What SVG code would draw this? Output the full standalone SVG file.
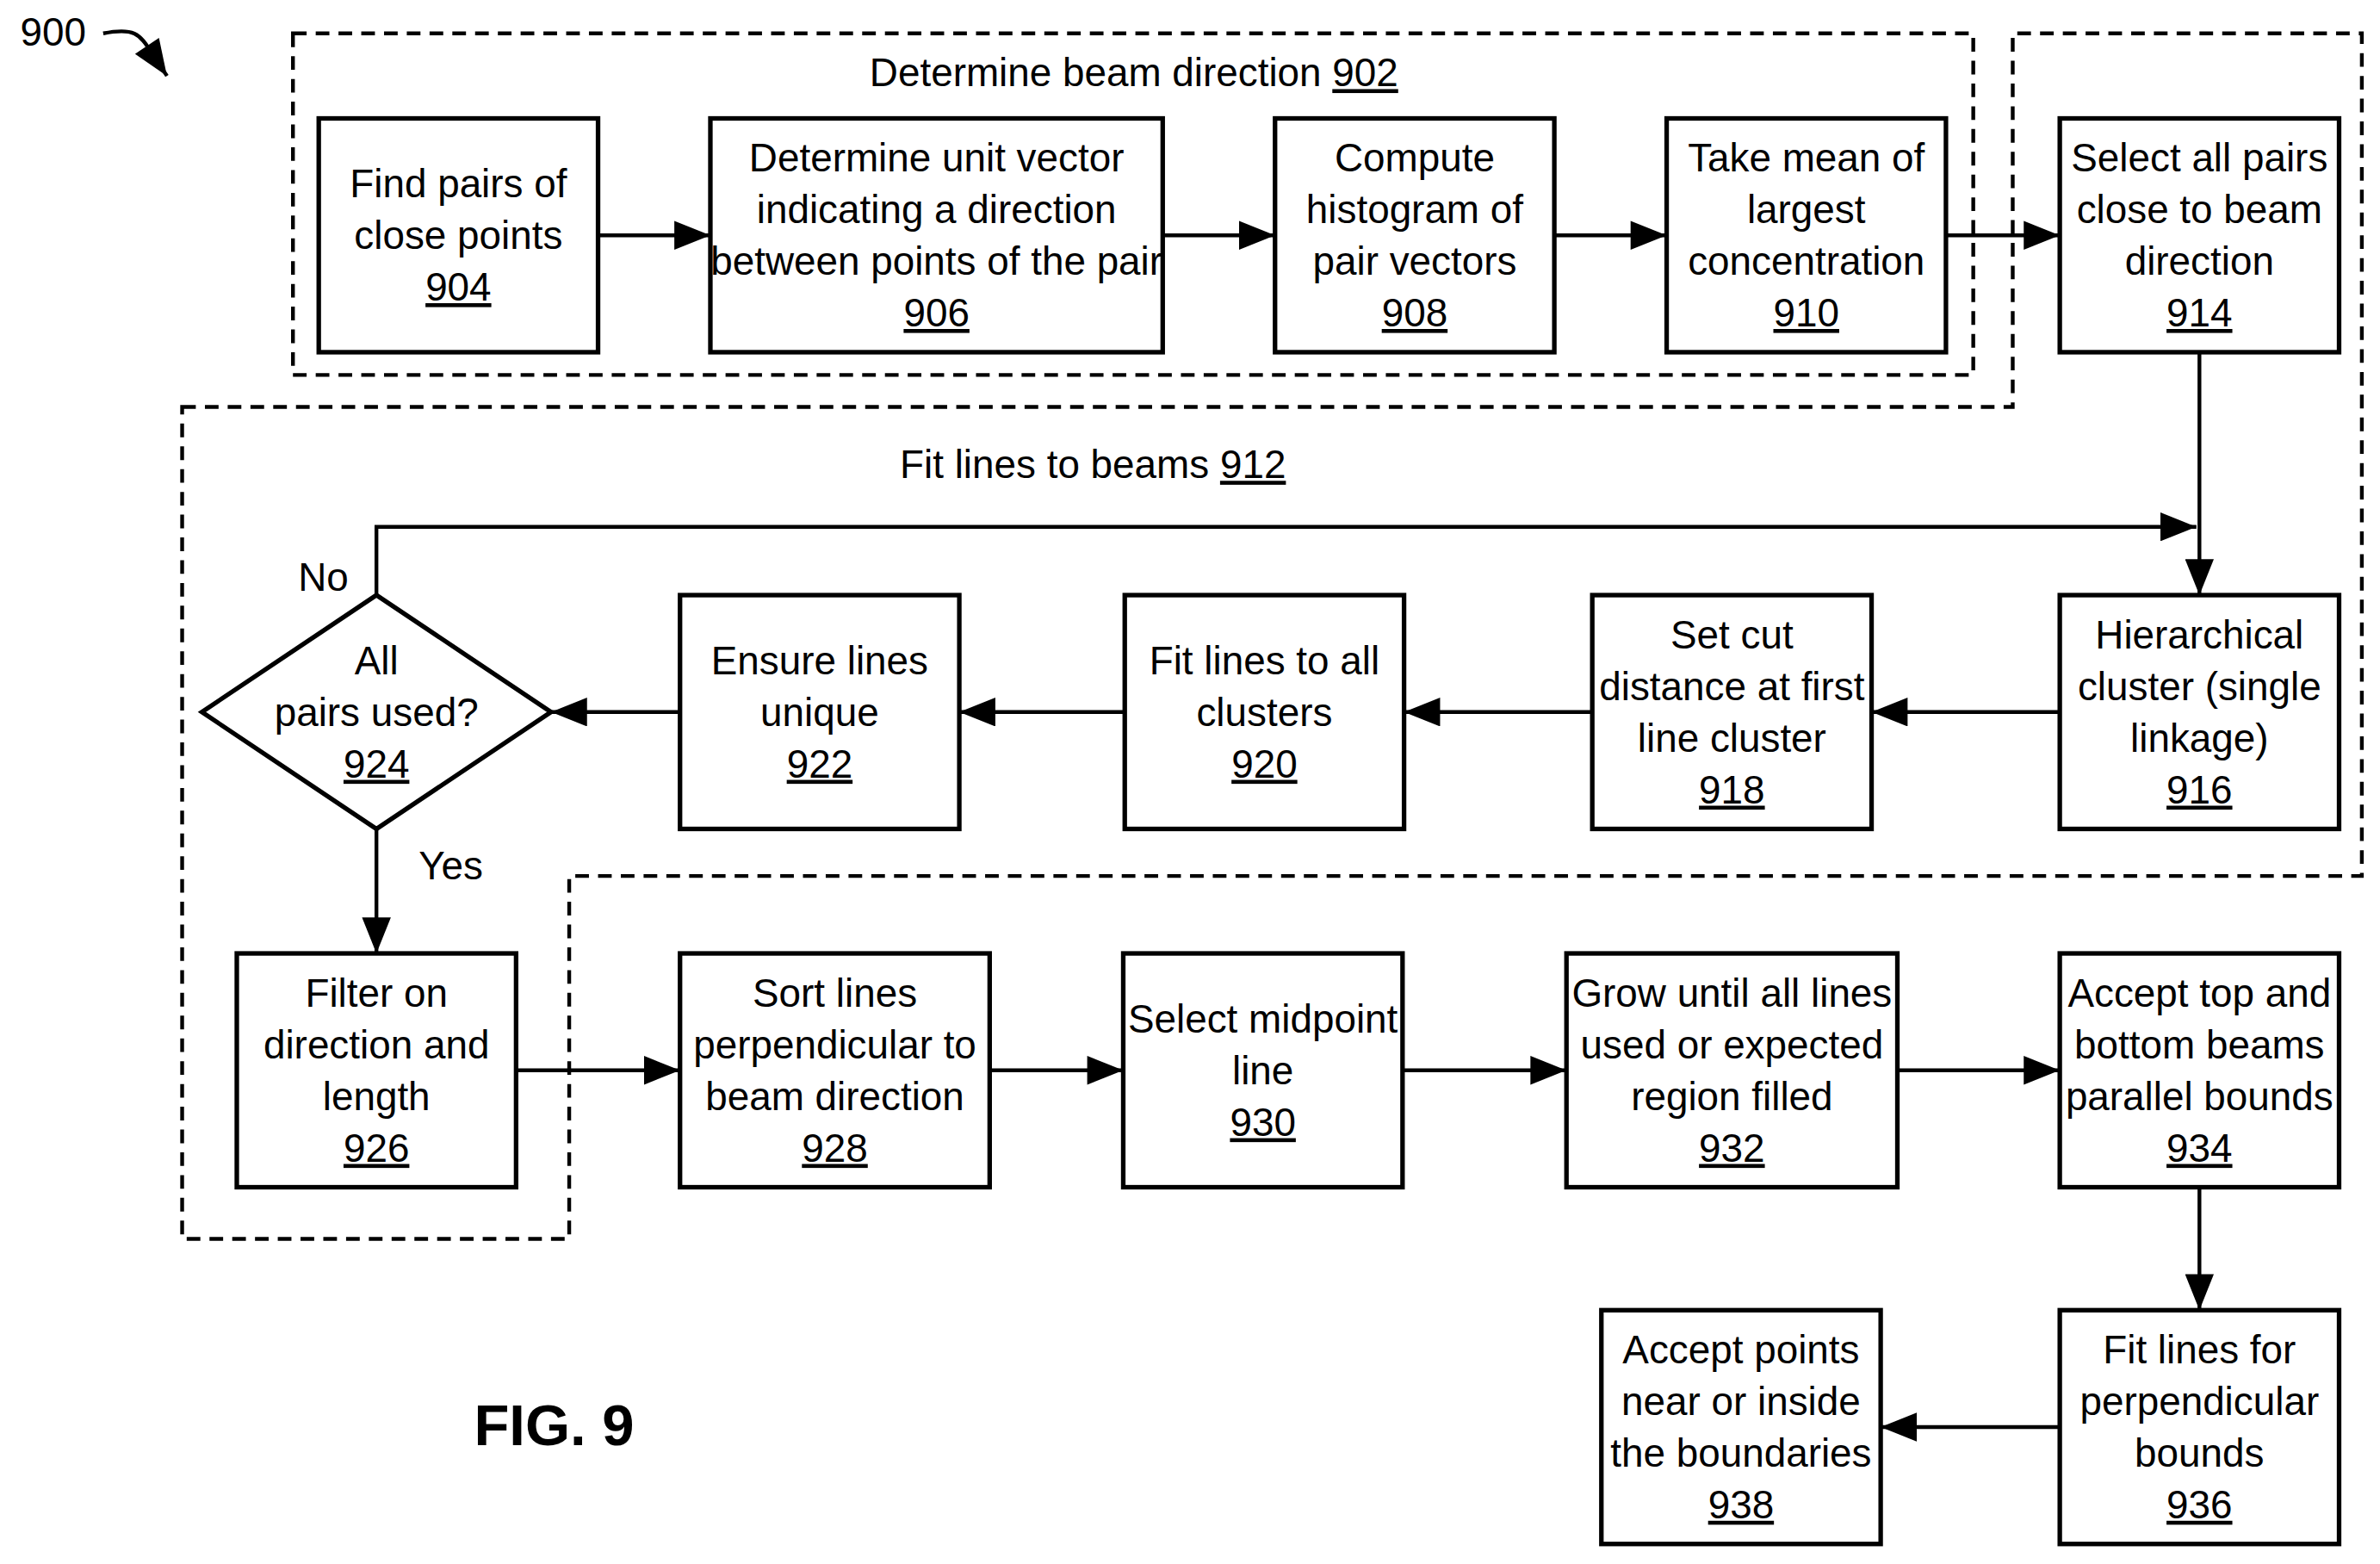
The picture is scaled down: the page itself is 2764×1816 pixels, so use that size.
<svg xmlns="http://www.w3.org/2000/svg" width="2764" height="1816" viewBox="0 0 2764 1816">
<style>
.b{fill:#fff;stroke:#000;stroke-width:3}
.d{fill:none;stroke:#000;stroke-width:2.5;stroke-dasharray:9,6}
.c{fill:none;stroke:#000;stroke-width:2.5}
text{font-family:"Liberation Sans Narrow","Liberation Sans",Arial,sans-serif;font-size:26px;text-anchor:middle;fill:#000}
.u{text-decoration:underline}
</style>
<defs><marker id="a" markerWidth="10" markerHeight="8" refX="10" refY="4" orient="auto" markerUnits="userSpaceOnUse" viewBox="0 0 10 8"><path d="M0,0L10,4L0,8z"/></marker>
<marker id="m" viewBox="0 0 10 8" refX="10" refY="4" markerWidth="24" markerHeight="19" orient="auto" markerUnits="userSpaceOnUse"><path d="M0,0L10,4L0,8z"/></marker></defs>
<rect width="2764" height="1816" fill="#fff"/>
<g transform="scale(1.7628)">
<g id="groups">
<rect class="d" x="193" y="22" width="1107" height="225"/>
<text x="747" y="57">Determine beam direction <tspan class="u">902</tspan></text>
<path class="d" d="M120,268H1326V22H1556V577H375V816H120Z"/>
<text x="720" y="315">Fit lines to beams <tspan class="u">912</tspan></text>
</g>
<g id="label900"><text x="35" y="30" style="font-size:26px">900</text>
<path class="c" d="M68,22C88,18 92,22 100,35L110,50" marker-end="url(#m)"/></g>
<g id="connectors">
<path class="c" marker-end="url(#m)" d="M394,155H468"/>
<path class="c" marker-end="url(#m)" d="M766,155H840"/>
<path class="c" marker-end="url(#m)" d="M1024,155H1098"/>
<path class="c" marker-end="url(#m)" d="M1282,155H1357"/>
<path class="c" marker-end="url(#m)" d="M1449,232V392"/>
<path class="c" marker-end="url(#m)" d="M248,392V347H1447"/>
<path class="c" marker-end="url(#m)" d="M1357,469H1233"/>
<path class="c" marker-end="url(#m)" d="M1049,469H925"/>
<path class="c" marker-end="url(#m)" d="M741,469H632"/>
<path class="c" marker-end="url(#m)" d="M448,469H363"/>
<path class="c" marker-end="url(#m)" d="M248,546V628"/>
<path class="c" marker-end="url(#m)" d="M340,705H448"/>
<path class="c" marker-end="url(#m)" d="M652,705H740"/>
<path class="c" marker-end="url(#m)" d="M924,705H1032"/>
<path class="c" marker-end="url(#m)" d="M1250,705H1357"/>
<path class="c" marker-end="url(#m)" d="M1449,782V863"/>
<path class="c" marker-end="url(#m)" d="M1357,940H1239"/>
<text x="213" y="389">No</text>
<text x="297" y="579">Yes</text>
</g>
<g id="n904"><rect class="b" x="210" y="78" width="184" height="154"/><text x="302" y="130">Find pairs of</text><text x="302" y="164">close points</text><text x="302" y="198" class="u">904</text></g>
<g id="n906"><rect class="b" x="468" y="78" width="298" height="154"/><text x="617" y="113">Determine unit vector</text><text x="617" y="147">indicating a direction</text><text x="617" y="181">between points of the pair</text><text x="617" y="215" class="u">906</text></g>
<g id="n908"><rect class="b" x="840" y="78" width="184" height="154"/><text x="932" y="113">Compute</text><text x="932" y="147">histogram of</text><text x="932" y="181">pair vectors</text><text x="932" y="215" class="u">908</text></g>
<g id="n910"><rect class="b" x="1098" y="78" width="184" height="154"/><text x="1190" y="113">Take mean of</text><text x="1190" y="147">largest</text><text x="1190" y="181">concentration</text><text x="1190" y="215" class="u">910</text></g>
<g id="n914"><rect class="b" x="1357" y="78" width="184" height="154"/><text x="1449" y="113">Select all pairs</text><text x="1449" y="147">close to beam</text><text x="1449" y="181">direction</text><text x="1449" y="215" class="u">914</text></g>
<g id="n916"><rect class="b" x="1357" y="392" width="184" height="154"/><text x="1449" y="427">Hierarchical</text><text x="1449" y="461">cluster (single</text><text x="1449" y="495">linkage)</text><text x="1449" y="529" class="u">916</text></g>
<g id="n918"><rect class="b" x="1049" y="392" width="184" height="154"/><text x="1141" y="427">Set cut</text><text x="1141" y="461">distance at first</text><text x="1141" y="495">line cluster</text><text x="1141" y="529" class="u">918</text></g>
<g id="n920"><rect class="b" x="741" y="392" width="184" height="154"/><text x="833" y="444">Fit lines to all</text><text x="833" y="478">clusters</text><text x="833" y="512" class="u">920</text></g>
<g id="n922"><rect class="b" x="448" y="392" width="184" height="154"/><text x="540" y="444">Ensure lines</text><text x="540" y="478">unique</text><text x="540" y="512" class="u">922</text></g>
<g id="n924"><path class="b" d="M248,392L363,469L248,546L133,469Z"/><text x="248" y="444">All</text><text x="248" y="478">pairs used?</text><text x="248" y="512" class="u">924</text></g>
<g id="n926"><rect class="b" x="156" y="628" width="184" height="154"/><text x="248" y="663">Filter on</text><text x="248" y="697">direction and</text><text x="248" y="731">length</text><text x="248" y="765" class="u">926</text></g>
<g id="n928"><rect class="b" x="448" y="628" width="204" height="154"/><text x="550" y="663">Sort lines</text><text x="550" y="697">perpendicular to</text><text x="550" y="731">beam direction</text><text x="550" y="765" class="u">928</text></g>
<g id="n930"><rect class="b" x="740" y="628" width="184" height="154"/><text x="832" y="680">Select midpoint</text><text x="832" y="714">line</text><text x="832" y="748" class="u">930</text></g>
<g id="n932"><rect class="b" x="1032" y="628" width="218" height="154"/><text x="1141" y="663">Grow until all lines</text><text x="1141" y="697">used or expected</text><text x="1141" y="731">region filled</text><text x="1141" y="765" class="u">932</text></g>
<g id="n934"><rect class="b" x="1357" y="628" width="184" height="154"/><text x="1449" y="663">Accept top and</text><text x="1449" y="697">bottom beams</text><text x="1449" y="731">parallel bounds</text><text x="1449" y="765" class="u">934</text></g>
<g id="n936"><rect class="b" x="1357" y="863" width="184" height="154"/><text x="1449" y="898">Fit lines for</text><text x="1449" y="932">perpendicular</text><text x="1449" y="966">bounds</text><text x="1449" y="1000" class="u">936</text></g>
<g id="n938"><rect class="b" x="1055" y="863" width="184" height="154"/><text x="1147" y="898">Accept points</text><text x="1147" y="932">near or inside</text><text x="1147" y="966">the boundaries</text><text x="1147" y="1000" class="u">938</text></g>
<text x="365" y="952" style="font-family:'Liberation Sans',Arial,sans-serif;font-weight:bold;font-size:38px">FIG. 9</text>
</g>
</svg>
